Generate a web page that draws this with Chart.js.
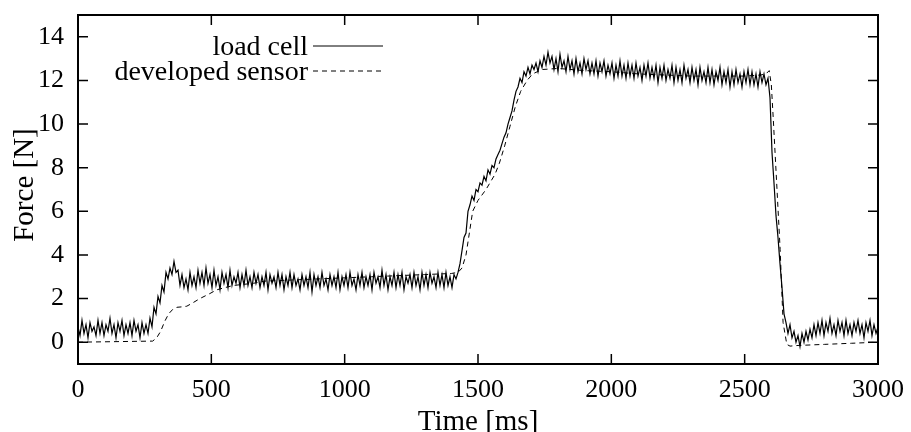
<!DOCTYPE html>
<html lang="en">
<head>
<meta charset="UTF-8">
<title>Force: load cell vs developed sensor</title>
<script src="https://cdn.jsdelivr.net/npm/chart.js"></script>
<style>
  body {
    margin: 0;
    background: #fff;
  }
  .wrap {
    width: 911px;
    height: 432px;
    position: relative;
  }
</style>
</head>
<body>
<div class="wrap"><canvas id="forceChart"></canvas></div>

<script>
  // ticks
  var xTicks = [0, 500, 1000, 1500, 2000, 2500, 3000];
  var yTicks = [0, 2, 4, 6, 8, 10, 12, 14];

  // load cell, one reading every 7.5 ms
  var loadCellStepMs = 7.5;
  var loadCellForce = [
    0.7, 0.3, 1.0, 0.4, 0.8, 0.2, 0.9, 0.5, 0.7, 0.3,
    1.0, 0.4, 0.9, 0.3, 0.8, 0.5, 1.1, 0.4, 0.8, 0.2,
    0.9, 0.5, 1.0, 0.3, 0.8, 0.4, 0.9, 0.3, 1.0, 0.5,
    0.8, 0.2, 0.9, 0.4, 0.8,
    0.4, 1.1, 0.7, 1.6, 1.3, 2.1, 1.8, 2.6, 2.3, 3.2,
    2.9, 3.4, 3.1, 3.7, 3.2, 3.3, 2.6,
    3.1, 2.5, 2.9, 2.4, 3.2, 2.6, 3.0, 2.5, 3.3, 2.7,
    3.2, 2.6, 3.4, 2.7, 3.1, 2.5, 3.3, 2.6, 3.0, 2.4,
    3.2, 2.7, 3.1, 2.5, 3.3, 2.6, 3.0, 2.7, 3.2, 2.5,
    3.1, 2.6, 3.3, 2.6, 3.0, 2.5, 3.2, 2.7, 3.1, 2.5,
    3.0, 2.6, 3.2, 2.4, 3.1, 2.7, 3.0, 2.5, 3.2, 2.6,
    3.1, 2.4, 3.0, 2.6, 3.2, 2.5, 3.1, 2.6, 2.9, 2.4,
    3.1, 2.6, 3.0, 2.5, 3.2, 2.3, 3.1, 2.6, 3.0, 2.5,
    3.2, 2.6, 2.9, 2.4, 3.1, 2.6, 3.0, 2.5, 3.2, 2.4,
    3.0, 2.6, 3.1, 2.5, 3.2, 2.6, 2.9, 2.4, 3.1, 2.6,
    3.2, 2.5, 3.0, 2.6, 3.1, 2.4, 3.2, 2.7, 3.0, 2.5,
    3.3, 2.6, 3.1, 2.4, 3.0, 2.6, 3.2, 2.5, 3.1, 2.6,
    3.2, 2.4, 3.0, 2.7, 3.1, 2.5, 3.2, 2.6, 3.0, 2.4,
    3.2, 2.6, 3.1, 2.5, 3.2, 2.7, 3.0, 2.5, 3.2, 2.6,
    3.1, 2.5, 3.2, 2.6, 3.0, 2.5, 3.1,
    2.9, 3.2, 3.6, 4.2, 4.8, 5.0, 6.0, 6.3, 6.7, 6.5,
    7.0, 6.9, 7.3, 7.2, 7.6, 7.4, 7.9, 7.7, 8.1, 8.0,
    8.4, 8.6, 8.8, 9.1, 9.4, 9.6, 10.0, 10.3, 10.6, 11.1,
    11.5, 11.7, 12.1, 11.9, 12.4, 12.2, 12.6, 12.3, 12.7, 12.5,
    12.8, 12.4, 12.9, 12.6, 13.1, 12.7, 13.3, 12.8,
    13.1, 12.5, 13.0, 12.4, 13.2, 12.6, 12.9, 12.4, 13.1, 12.5,
    12.9, 12.3, 13.0, 12.4, 12.8, 12.3, 13.0, 12.5, 12.9, 12.3,
    12.8, 12.3, 12.9, 12.2, 12.8, 12.4, 12.9, 12.2, 12.7, 12.3,
    12.8, 12.1, 12.7, 12.2, 12.9, 12.2, 12.7, 12.1, 12.8, 12.2,
    12.7, 12.1, 12.8, 12.2, 12.6, 12.0, 12.7, 12.2, 12.8, 12.1,
    12.6, 12.1, 12.7, 11.9, 12.6, 12.1, 12.7, 12.0, 12.5, 12.1,
    12.7, 11.9, 12.6, 12.0, 12.5, 11.9, 12.7, 12.1, 12.5, 11.9,
    12.6, 12.0, 12.5, 11.8, 12.6, 12.0, 12.4, 11.9, 12.6, 11.9,
    12.5, 11.8, 12.4, 12.0, 12.6, 11.8, 12.4, 11.9, 12.5, 11.7,
    12.4, 11.8, 12.5, 11.9, 12.3, 11.7, 12.4, 11.9, 12.5, 11.8,
    12.4, 11.8, 12.3, 11.7, 12.4, 11.9, 12.3, 11.8, 12.1,
    11.2, 8.7, 7.3, 5.8, 4.8, 3.6, 2.5, 1.3, 0.9, 0.4,
    0.8, 0.2, 0.5, 0.0, 0.3, -0.2, 0.4, 0.0, 0.5, 0.1,
    0.6, 0.2, 0.8, 0.3,
    0.9, 0.4, 1.0, 0.3, 0.9, 0.5, 1.1, 0.4, 0.8, 0.3,
    1.0, 0.5, 0.9, 0.3, 1.0, 0.4, 0.8, 0.3, 0.9, 0.5,
    1.0, 0.4, 0.8, 0.2, 0.9, 0.5, 1.0, 0.3, 0.8, 0.4, 0.7
  ];

  // developed sensor (smooth, dashed)
  var sensorTimes = [
    0, 280, 295, 310, 325, 340, 355, 371, 390, 408,
    430, 457, 490, 520, 550, 583, 620, 658, 700, 800,
    900, 1000, 1100, 1200, 1300, 1400, 1425, 1440, 1455, 1470,
    1480, 1500, 1530, 1564, 1580, 1600, 1620, 1640, 1660, 1684,
    1705, 1740, 1800, 1900, 2000, 2100, 2200, 2300, 2400, 2500,
    2560, 2580, 2592, 2600, 2607, 2620, 2633, 2644, 2658, 2670,
    2700, 2800, 2900, 3000
  ];
  var sensorForce = [
    0.0, 0.05, 0.2, 0.5, 0.95, 1.3, 1.5, 1.6, 1.62, 1.65,
    1.8, 2.0, 2.2, 2.4, 2.5, 2.6, 2.65, 2.7, 2.8, 2.85,
    2.9, 2.95, 3.0, 3.05, 3.1, 3.15, 3.2, 3.4, 4.0, 5.2,
    6.0, 6.5, 7.0, 7.7, 8.2, 9.0, 9.9, 10.8, 11.5, 12.0,
    12.3, 12.5, 12.55, 12.45, 12.4, 12.3, 12.25, 12.2, 12.2, 12.2,
    12.25, 12.3, 12.45, 11.8, 10.3, 7.3, 4.25, 0.9, -0.1, -0.18,
    -0.15, -0.1, -0.05, 0.0
  ];

  var loadCellPoints = loadCellForce.map(function (f, i) {
    return { x: i * loadCellStepMs, y: f };
  });
  var sensorPoints = sensorTimes.map(function (t, i) {
    return { x: t, y: sensorForce[i] };
  });

  var serif = '"Liberation Serif", "Times New Roman", serif';

  // frame with inward ticks on all sides, axis titles and the legend
  var framePlugin = {
    id: 'frame',
    afterDraw: function (chart) {
      var ctx = chart.ctx;
      var a = chart.chartArea;
      var xs = chart.scales.x;
      var ys = chart.scales.y;
      var tick = 10;

      ctx.save();
      ctx.strokeStyle = '#000';
      ctx.lineWidth = 1.5;
      ctx.beginPath();
      xTicks.forEach(function (v) {
        var px = xs.getPixelForValue(v);
        ctx.moveTo(px, a.bottom);
        ctx.lineTo(px, a.bottom - tick);
        ctx.moveTo(px, a.top);
        ctx.lineTo(px, a.top + tick);
      });
      yTicks.forEach(function (v) {
        var py = ys.getPixelForValue(v);
        ctx.moveTo(a.left, py);
        ctx.lineTo(a.left + tick, py);
        ctx.moveTo(a.right, py);
        ctx.lineTo(a.right - tick, py);
      });
      ctx.stroke();

      ctx.lineWidth = 2;
      ctx.strokeRect(a.left, a.top, a.right - a.left, a.bottom - a.top);

      // axis titles
      ctx.fillStyle = '#000';
      ctx.font = '29px ' + serif;
      ctx.textAlign = 'center';
      ctx.textBaseline = 'alphabetic';
      ctx.fillText('Time [ms]', (a.left + a.right) / 2, 430);
      ctx.save();
      ctx.translate(33, 185);
      ctx.rotate(-Math.PI / 2);
      ctx.fillText('Force [N]', 0, 0);
      ctx.restore();

      // legend (top left, text right-aligned before the sample line)
      ctx.font = '28px ' + serif;
      ctx.textAlign = 'right';
      chart.data.datasets.forEach(function (ds, i) {
        var ly = a.top + 31 + i * 25;
        ctx.fillText(ds.label, a.left + 230, ly + 9);
        ctx.beginPath();
        ctx.lineWidth = 1;
        ctx.setLineDash(ds.borderDash || []);
        ctx.moveTo(a.left + 235, ly);
        ctx.lineTo(a.left + 305, ly);
        ctx.stroke();
      });
      ctx.restore();
    }
  };

  function plainLabel(v) {
    return String(v);
  }

  var ctx = document.getElementById('forceChart').getContext('2d');
  var forceChart = new Chart(ctx, {
    type: 'line',
    data: {
      datasets: [{
        label: 'load cell',
        data: loadCellPoints,
        borderColor: '#000',
        borderWidth: 1.2,
        pointRadius: 0,
        tension: 0
      }, {
        label: 'developed sensor',
        data: sensorPoints,
        borderColor: '#000',
        borderWidth: 1,
        borderDash: [5, 4],
        pointRadius: 0,
        tension: 0
      }]
    },
    options: {
      responsive: true,
      maintainAspectRatio: false,
      animation: false,
      devicePixelRatio: 1,
      layout: {
        padding: { left: 0, right: 33, top: 15, bottom: 0 }
      },
      plugins: {
        legend: { display: false },
        tooltip: { enabled: false }
      },
      scales: {
        x: {
          type: 'linear',
          min: 0,
          max: 3000,
          grid: { display: false, drawTicks: false },
          border: { display: false },
          ticks: {
            color: '#000',
            padding: 13,
            maxRotation: 0,
            callback: plainLabel,
            font: { family: serif, size: 26, lineHeight: 1 }
          },
          afterBuildTicks: function (scale) {
            scale.ticks = xTicks.map(function (v) { return { value: v }; });
          },
          afterFit: function (scale) {
            scale.height = 68;
            scale.paddingLeft = 0;
            scale.paddingRight = 0;
          }
        },
        y: {
          min: -1,
          max: 15,
          grid: { display: false, drawTicks: false },
          border: { display: false },
          ticks: {
            color: '#000',
            padding: 14,
            callback: plainLabel,
            font: { family: serif, size: 26, lineHeight: 1 }
          },
          afterBuildTicks: function (scale) {
            scale.ticks = yTicks.map(function (v) { return { value: v }; });
          },
          afterFit: function (scale) {
            scale.width = 78;
            scale.paddingTop = 0;
            scale.paddingBottom = 0;
          }
        }
      }
    },
    plugins: [framePlugin]
  });
</script>
</body>
</html>
